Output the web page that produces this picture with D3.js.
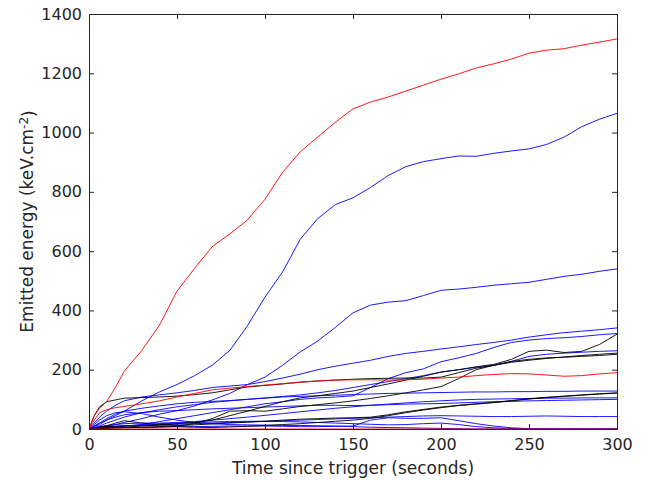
<!DOCTYPE html>
<html>
<head>
<meta charset="utf-8">
<script src="https://cdn.jsdelivr.net/npm/d3@7.9.0/dist/d3.min.js"></script>
<style>
  body { margin: 0; background: #fff; }
  svg { display: block; }
  .tick text { font-family: "DejaVu Sans", sans-serif; font-size: 16px; fill: #262626; }
</style>
</head>
<body>
<svg id="vis"></svg>
<script>
const width = 655;
const height = 480;
const margin = { top: 14, right: 38, bottom: 51, left: 89 };

// --- data ---
const times = [0, 3, 6, 10, 15, 20, 30, 40, 50, 60, 70, 80, 90, 100, 110, 120, 130, 140, 150,
  160, 170, 180, 190, 200, 210, 220, 230, 240, 250, 260, 270, 280, 290, 300];

const redBig = [0, 45, 70, 92, 140, 195, 265, 350, 465, 542, 615, 658, 705, 775, 866, 935, 985, 1035, 1080,
  1103, 1120, 1140, 1160, 1180, 1198, 1218, 1232, 1248, 1268, 1278, 1283, 1295, 1305, 1316];
const blueBig = [0, 8, 15, 30, 45, 60, 95, 125, 150, 180, 215, 265, 348, 445, 530, 640, 710, 757, 780,
  815, 855, 885, 902, 912, 921, 920, 930, 938, 945, 960, 985, 1020, 1045, 1065];
const blueMid = [0, 3, 6, 10, 15, 22, 35, 50, 62, 78, 98, 120, 150, 175, 215, 260, 297, 343, 392,
  418, 428, 433, 450, 468, 472, 478, 485, 490, 495, 505, 515, 522, 532, 540];
const blueA = [0, 20, 40, 60, 80, 95, 108, 115, 122, 130, 140, 145, 150, 160, 172, 185, 200, 212, 222,
  232, 245, 255, 262, 270, 277, 285, 292, 300, 310, 318, 325, 330, 335, 341];
const blueB = [0, 1, 3, 5, 8, 10, 15, 25, 35, 45, 55, 65, 75, 85, 92, 100, 105, 108, 112,
  140, 170, 190, 203, 227, 240, 255, 275, 292, 300, 305, 308, 312, 318, 322];
const blackC = [0, 1, 2, 3, 5, 6, 10, 14, 18, 22, 30, 45, 60, 76, 92, 105, 112, 120, 128,
  140, 152, 165, 178, 192, 200, 210, 218, 235, 262, 266, 258, 262, 285, 320];
const blackF = [0, 45, 75, 92, 98, 104, 106, 108, 111, 116, 122, 132, 142, 147, 152, 158, 162, 165, 168,
  170, 171, 172, 172, 175, 190, 205, 215, 228, 235, 240, 242, 245, 248, 252];
const blackD = [0, 0, 1, 2, 3, 4, 6, 8, 10, 18, 35, 60, 62, 60, 68, 76, 82, 88, 95,
  103, 112, 122, 132, 143, 170, 200, 215, 225, 232, 238, 243, 248, 252, 256];
const blueE = [0, 10, 20, 35, 50, 60, 70, 78, 85, 90, 93, 96, 100, 105, 110, 115, 122, 130, 140,
  150, 160, 170, 180, 192, 200, 208, 215, 228, 245, 252, 256, 259, 262, 264];
const redMid = [0, 30, 55, 65, 72, 76, 85, 95, 108, 120, 132, 138, 143, 148, 153, 158, 162, 165, 166,
  166, 165, 166, 168, 172, 175, 180, 184, 187, 186, 182, 178, 180, 186, 190];
const blueG = [0, 5, 10, 20, 30, 40, 55, 65, 75, 82, 90, 95, 100, 104, 108, 110, 112, 114, 116,
  118, 120, 121, 122, 123, 124, 125, 125, 126, 126, 127, 127, 128, 128, 128];
const blackH = [0, 2, 5, 10, 20, 28, 20, 14, 12, 14, 17, 20, 23, 26, 30, 33, 35, 37, 38,
  40, 48, 58, 66, 74, 80, 85, 90, 96, 102, 107, 111, 115, 119, 122];
const blueI = [0, 10, 20, 30, 40, 48, 55, 60, 62, 65, 68, 70, 72, 74, 76, 78, 80, 80, 79,
  80, 82, 84, 85, 86, 88, 90, 92, 93, 95, 96, 97, 98, 99, 100];
const blueJ = [0, 2, 4, 6, 8, 10, 12, 14, 16, 18, 20, 22, 24, 26, 28, 30, 32, 34, 36,
  38, 40, 42, 44, 45, 44, 43, 42, 42, 43, 44, 43, 42, 42, 42];
const blueK = [0, 3, 5, 8, 10, 12, 12, 10, 8, 8, 9, 10, 10, 10, 9, 8, 8, 9, 10,
  30, 38, 36, 36, 38, 28, 18, 10, 4, 1, 0, 0, 0, 0, 0];
const blueL = [0, 2, 4, 6, 8, 10, 14, 18, 20, 22, 24, 25, 26, 26, 25, 24, 22, 20, 18,
  16, 14, 15, 18, 20, 15, 8, 4, 2, 0, 0, 0, 0, 0, 0];
const blueN = [0, 15, 30, 45, 55, 58, 52, 40, 30, 22, 18, 15, 14, 13, 12, 12, 11, 10, 8,
  6, 5, 4, 3, 2, 1, 0, 0, 0, 0, 0, 0, 0, 0, 0];
const blueO = [0, 4, 8, 12, 15, 18, 20, 20, 22, 25, 30, 35, 40, 46, 52, 58, 64, 70, 75,
  80, 84, 88, 92, 95, 98, 100, 101, 102, 103, 104, 104, 105, 105, 105];
const blackP = [0, 3, 6, 10, 8, 6, 5, 6, 8, 6, 5, 7, 9, 12, 15, 18, 22, 26, 30,
  36, 45, 55, 64, 72, 79, 84, 89, 95, 101, 106, 110, 114, 118, 121];
const redZero = [0, 0, 0, 0, 0, 0, 0, 0, 0, 0, 0, 0, 0, 0, 0, 0, 0, 0, 0,
  0, 0, 0, 0, 0, 0, 0, 0, 0, 0, 0, 0, 0, 0, 0];

const xTicks = [0, 50, 100, 150, 200, 250, 300];
const yTicks = [0, 200, 400, 600, 800, 1000, 1200, 1400];

const lines = [
  { values: blueBig, color: "#0000ff" },
  { values: blueMid, color: "#0000ff" },
  { values: blueA, color: "#0000ff" },
  { values: blueB, color: "#0000ff" },
  { values: blueE, color: "#0000ff" },
  { values: blueG, color: "#0000ff" },
  { values: blueI, color: "#0000ff" },
  { values: blueJ, color: "#0000ff" },
  { values: blueK, color: "#0000ff" },
  { values: blueL, color: "#0000ff" },
  { values: blueN, color: "#0000ff" },
  { values: blueO, color: "#0000ff" },
  { values: blackC, color: "#000000" },
  { values: blackF, color: "#000000" },
  { values: blackD, color: "#000000" },
  { values: blackH, color: "#000000" },
  { values: blackP, color: "#000000" },
  { values: redBig, color: "#ff0000" },
  { values: redMid, color: "#ff0000" },
  { values: redZero, color: "#ff0000" }
];

const svg = d3.select("#vis")
    .attr("width", width)
    .attr("height", height);

const x = d3.scaleLinear().domain([0, 300]).range([margin.left, width - margin.right]);
const y = d3.scaleLinear().domain([0, 1400]).range([height - margin.bottom, margin.top]);

const line = d3.line()
    .x((d, i) => x(times[i]))
    .y(d => y(d));

const plot = svg.append("g");
plot.append("clipPath").attr("id", "clip")
  .append("rect")
    .attr("x", margin.left).attr("y", margin.top)
    .attr("width", x(300) - x(0)).attr("height", y(0) - y(1400));

plot.append("g")
    .attr("clip-path", "url(#clip)")
  .selectAll("path")
  .data(lines)
  .join("path")
    .attr("d", d => line(d.values))
    .attr("fill", "none")
    .attr("stroke", d => d.color)
    .attr("stroke-width", 0.9);

// axes, matlab style: ticks inside, box all round
const axisColor = "#262626";

function styleAxis(g) {
    g.select(".domain").remove();
    g.selectAll(".tick line").attr("stroke", axisColor);
}

svg.append("g")
    .attr("transform", `translate(0,${y(0)})`)
    .call(d3.axisBottom(x).tickValues(xTicks).tickSize(-5).tickPadding(10).tickFormat(d3.format("d")))
    .call(styleAxis);

svg.append("g")
    .attr("transform", `translate(${x(0)},0)`)
    .call(d3.axisLeft(y).tickValues(yTicks).tickSize(-5).tickPadding(7).tickFormat(d3.format("d")))
    .call(styleAxis);

svg.append("g")
    .attr("transform", `translate(0,${y(1400)})`)
    .call(d3.axisTop(x).tickValues(xTicks).tickSize(-5).tickFormat(""))
    .call(styleAxis);

svg.append("g")
    .attr("transform", `translate(${x(300)},0)`)
    .call(d3.axisRight(y).tickValues(yTicks).tickSize(-5).tickFormat(""))
    .call(styleAxis);

svg.append("rect")
    .attr("x", x(0)).attr("y", y(1400))
    .attr("width", x(300) - x(0)).attr("height", y(0) - y(1400))
    .attr("fill", "none")
    .attr("stroke", axisColor)
    .attr("stroke-width", 1)
    .attr("shape-rendering", "crispEdges");

// labels
svg.append("text")
    .attr("x", (x(0) + x(300)) / 2)
    .attr("y", 474)
    .attr("text-anchor", "middle")
    .style("font-family", "DejaVu Sans, sans-serif")
    .style("font-size", "17px")
    .attr("fill", axisColor)
    .text("Time since trigger (seconds)");

const yLabel = svg.append("text")
    .attr("transform", `translate(33,${(y(0) + y(1400)) / 2}) rotate(-90)`)
    .attr("text-anchor", "middle")
    .style("font-family", "DejaVu Sans, sans-serif")
    .style("font-size", "17px")
    .attr("fill", axisColor);
yLabel.append("tspan").text("Emitted energy (keV.cm");
yLabel.append("tspan").attr("dy", "-0.45em").style("font-size", "12px").text("-2");
yLabel.append("tspan").attr("dy", "0.45em").text(")");
</script>
</body>
</html>
